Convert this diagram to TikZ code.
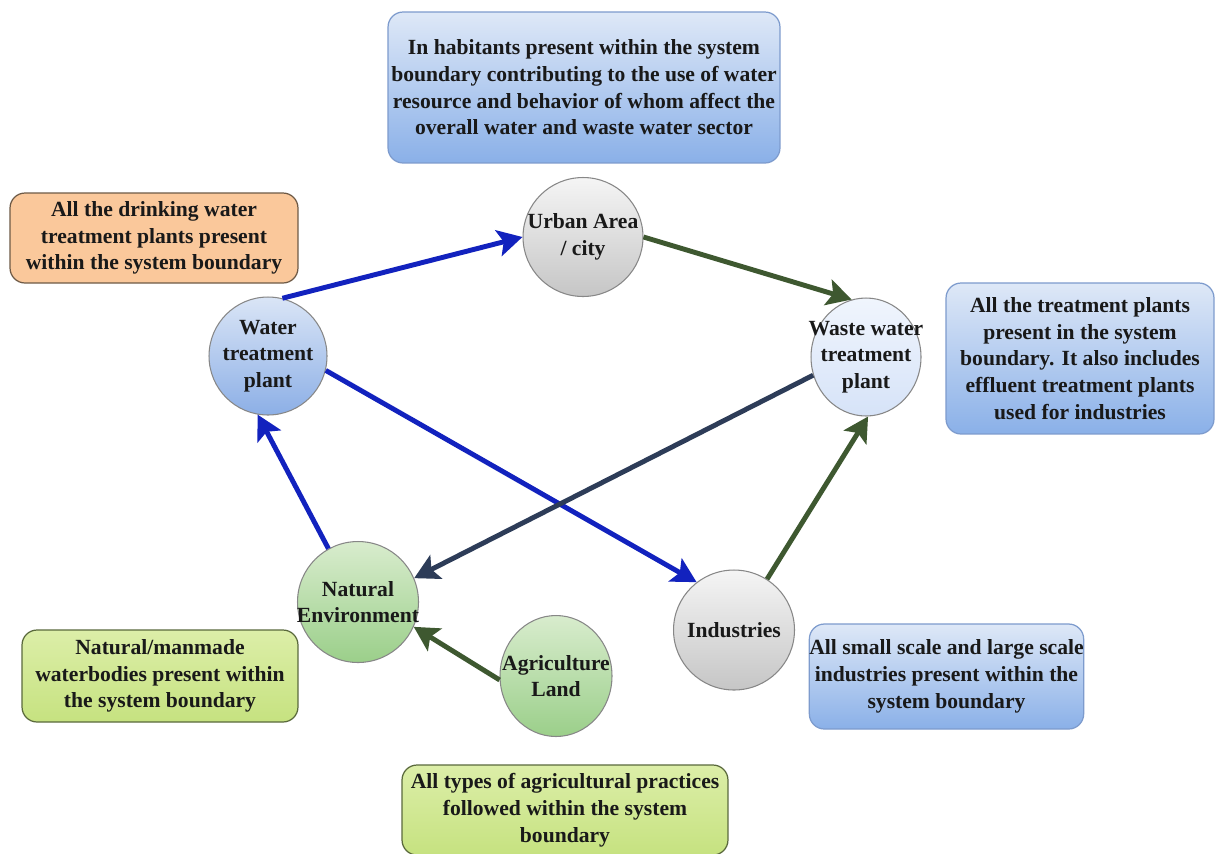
\documentclass[tikz,border=0pt]{standalone}
\usepackage{fontspec}
\setmainfont{LiberationSerif}[Extension=.ttf, UprightFont=*-Regular, BoldFont=*-Bold, ItalicFont=*-Italic, BoldItalicFont=*-BoldItalic]
\usetikzlibrary{arrows.meta,shapes.geometric}
\definecolor{arrblue}{RGB}{18,34,190}
\definecolor{arrgreen}{RGB}{62,88,48}
\definecolor{arrslate}{RGB}{45,60,88}
\definecolor{circborder}{RGB}{135,135,135}
\definecolor{blueborder}{RGB}{125,155,205}
\definecolor{orangeborder}{RGB}{110,90,70}
\definecolor{greenborder}{RGB}{90,105,60}
\tikzset{
  every node/.style={font=\bfseries\fontsize{12.3}{15.2}\selectfont, text=black!90},
  circ/.style={ellipse, draw=circborder, line width=0.6pt, inner sep=0pt},
  ctext/.style={label={[align=center, inner sep=0pt]center:#1}},
  greycirc/.style={circ, top color=gray!8, bottom color=gray!45},
  bluecirc/.style={circ, top color={rgb,255:red,218;green,229;blue,246}, bottom color={rgb,255:red,140;green,175;blue,230}},
  palecirc/.style={circ, top color={rgb,255:red,240;green,245;blue,253}, bottom color={rgb,255:red,214;green,227;blue,248}},
  greencirc/.style={circ, top color={rgb,255:red,216;green,236;blue,205}, bottom color={rgb,255:red,155;green,207;blue,138}},
  box/.style={rectangle, rounded corners=0.3cm, align=center, inner sep=0pt, line width=0.7pt},
  bluebox/.style={box, draw=blueborder, top color={rgb,255:red,222;green,232;blue,247}, bottom color={rgb,255:red,138;green,176;blue,232}},
  orangebox/.style={box, draw=orangeborder, fill={rgb,255:red,250;green,200;blue,155}},
  greenbox/.style={box, draw=greenborder, top color={rgb,255:red,220;green,238;blue,168}, bottom color={rgb,255:red,198;green,226;blue,128}},
  flow/.style={line width=2.8pt, -{Stealth[length=14pt,width=15pt,inset=3pt]}},
}
\begin{document}
\begin{tikzpicture}[x=0.02cm,y=-0.02cm]
\useasboundingbox (0,0) rectangle (1216,853);
\fill[white] (0,0) rectangle (1216,853);

% circles
\node[greycirc, minimum width=2.4cm, minimum height=2.38cm, ctext={Urban Area\\/ city}] (urban) at (583,237) {};
\node[bluecirc, minimum width=2.36cm, minimum height=2.36cm, ctext={Water\\treatment\\plant}] (water) at (268,356) {};
\node[palecirc, minimum width=2.2cm, minimum height=2.36cm, ctext={Waste water\\treatment\\plant}] (waste) at (866,357) {};
\node[greencirc, minimum width=2.42cm, minimum height=2.42cm, ctext={Natural\\Environment}] (natural) at (358,602) {};
\node[greencirc, minimum width=2.24cm, minimum height=2.42cm, ctext={Agriculture\\Land}] (agri) at (556,676) {};
\node[greycirc, minimum width=2.42cm, minimum height=2.4cm, ctext={Industries}] (ind) at (734,630) {};

% boxes
\node[bluebox, minimum width=7.84cm, minimum height=3.02cm] (topbox) at (584,87.5)
  {In habitants present within the system\\boundary contributing to the use of water\\resource and behavior of whom affect the\\overall water and waste water sector};
\node[orangebox, minimum width=5.76cm, minimum height=1.8cm] (obox) at (154,238)
  {All the drinking water\\treatment plants present\\within the system boundary};
\node[bluebox, minimum width=5.36cm, minimum height=3.02cm] (rbox) at (1080,358.5)
  {All the treatment plants\\present in the system\\boundary. It also includes\\effluent treatment plants\\used for industries};
\node[greenbox, minimum width=5.52cm, minimum height=1.84cm] (nbox) at (160,676)
  {Natural/manmade\\waterbodies present within\\the system boundary};
\node[greenbox, minimum width=6.52cm, minimum height=1.8cm] (abox) at (565,810)
  {All types of agricultural practices\\followed within the system\\boundary};
\node[bluebox, minimum width=5.46cm, minimum height=2.1cm] (ibox) at (946.5,676.5)
  {All small scale and large scale\\industries present within the\\system boundary};

% arrows
\draw[flow, arrblue] (water.76) -- (urban.180);
\draw[flow, arrgreen] (urban.0) -- (waste.104);
\draw[flow, arrblue] (water.-14) -- (ind.128);
\draw[flow, arrslate] (waste.199) -- (natural.23);
\draw[flow, arrgreen] (ind.57) -- (waste.272);
\draw[flow, arrblue] (natural.119) -- (water.260);
\draw[flow, arrgreen] (agri.184) -- (natural.336);
\end{tikzpicture}
\end{document}
